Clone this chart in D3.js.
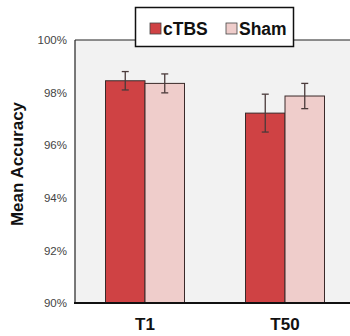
<!DOCTYPE html>
<html lang="en">
<head>
<meta charset="utf-8">
<title>Mean Accuracy</title>
<script src="https://cdn.jsdelivr.net/npm/d3@7"></script>
<style>
  body { margin: 0; background: #fff; }
  svg { display: block; font-family: "Liberation Sans", Arial, sans-serif; }
</style>
</head>
<body>
<svg width="350" height="336"></svg>
<script>
    // data
    var categories = ["T1", "T50"];
    var groups = ["cTBS", "Sham"];
    var ctbsMean = [98.45, 97.22];
    var ctbsErr = [0.35, 0.72];
    var shamMean = [98.35, 97.87];
    var shamErr = [0.36, 0.48];
    var yTicks = [90, 92, 94, 96, 98, 100];
    var colors = ["#cf4244", "#efcdcb"];

    var svg = d3.select("svg");
    var plotLeft = 75, plotRight = 355, plotTop = 40, plotBottom = 303;
    var groupW = 79;

    var x = d3.scaleBand().domain(categories).range([plotLeft, plotRight]).padding(0);
    var xs = d3.scaleBand().domain(groups).range([0, groupW]);
    var y = d3.scaleLinear().domain([90, 100]).range([plotBottom, plotTop]);

    var rows = [];
    categories.forEach(function (c, i) {
        rows.push({ cat: c, grp: "cTBS", v: ctbsMean[i], e: ctbsErr[i] });
        rows.push({ cat: c, grp: "Sham", v: shamMean[i], e: shamErr[i] });
    });

    function barX(d) { return x(d.cat) + (x.bandwidth() - groupW) / 2 + xs(d.grp); }
    function cx(d) { return barX(d) + xs.bandwidth() / 2; }

    // plot background
    svg.append("rect")
        .attr("x", plotLeft).attr("y", plotTop)
        .attr("width", plotRight - plotLeft).attr("height", plotBottom - plotTop)
        .attr("fill", "#f2f2f2");

    // frame top + left
    svg.append("line").attr("x1", plotLeft).attr("x2", plotRight).attr("y1", plotTop).attr("y2", plotTop)
        .attr("stroke", "#222").attr("stroke-width", 1.2);
    svg.append("line").attr("x1", plotLeft).attr("x2", plotLeft).attr("y1", plotTop).attr("y2", plotBottom)
        .attr("stroke", "#222").attr("stroke-width", 1.2);

    // bars
    svg.append("g").selectAll("rect")
        .data(rows)
        .enter().append("rect")
        .attr("x", barX)
        .attr("y", function (d) { return y(d.v); })
        .attr("width", xs.bandwidth())
        .attr("height", function (d) { return plotBottom - y(d.v); })
        .attr("fill", function (d) { return colors[groups.indexOf(d.grp)]; })
        .attr("stroke", "#3a2a2a")
        .attr("stroke-width", 1);

    // error bars
    var err = svg.append("g").selectAll("g")
        .data(rows)
        .enter().append("g")
        .attr("stroke", "#4a3a3a")
        .attr("stroke-width", 1.3);
    err.append("line")
        .attr("x1", cx).attr("x2", cx)
        .attr("y1", function (d) { return y(d.v + d.e); })
        .attr("y2", function (d) { return y(d.v - d.e); });
    err.append("line")
        .attr("x1", function (d) { return cx(d) - 3.5; }).attr("x2", function (d) { return cx(d) + 3.5; })
        .attr("y1", function (d) { return y(d.v + d.e); })
        .attr("y2", function (d) { return y(d.v + d.e); });
    err.append("line")
        .attr("x1", function (d) { return cx(d) - 3.5; }).attr("x2", function (d) { return cx(d) + 3.5; })
        .attr("y1", function (d) { return y(d.v - d.e); })
        .attr("y2", function (d) { return y(d.v - d.e); });

    // bottom axis line
    svg.append("line").attr("x1", plotLeft - 1).attr("x2", plotRight).attr("y1", plotBottom).attr("y2", plotBottom)
        .attr("stroke", "#111").attr("stroke-width", 2.2);

    // y tick labels
    var yAxis = svg.append("g")
        .attr("transform", "translate(" + (plotLeft - 8) + ",0)")
        .call(d3.axisLeft(y).tickValues(yTicks).tickSize(0).tickPadding(0)
            .tickFormat(function (d) { return d + "%"; }));
    yAxis.select(".domain").remove();
    yAxis.selectAll("text")
        .attr("fill", "#444")
        .style("font-size", "11.5px")
        .style("font-family", "\"Liberation Sans\", Arial, sans-serif");

    // x labels
    var xAxis = svg.append("g")
        .attr("transform", "translate(0," + plotBottom + ")")
        .call(d3.axisBottom(x).tickSize(0).tickPadding(15));
    xAxis.select(".domain").remove();
    xAxis.selectAll("text")
        .attr("fill", "#111")
        .attr("dy", "0.71em")
        .style("font-size", "17px")
        .style("font-weight", "bold")
        .style("font-family", "\"Liberation Sans\", Arial, sans-serif");

    // y title
    svg.append("text")
        .attr("transform", "translate(23,164) rotate(-90)")
        .attr("text-anchor", "middle")
        .attr("fill", "#111")
        .style("font-size", "17px")
        .style("font-weight", "bold")
        .text("Mean Accuracy");

    // legend
    var legend = svg.append("g");
    legend.append("rect")
        .attr("x", 135.5).attr("y", 7.5).attr("width", 158).attr("height", 39)
        .attr("fill", "#fff").attr("stroke", "#111").attr("stroke-width", 1.5);
    var legX = [150, 226];
    var item = legend.selectAll("g.item")
        .data(groups)
        .enter().append("g")
        .attr("class", "item")
        .attr("transform", function (d, i) { return "translate(" + legX[i] + ",23)"; });
    item.append("rect")
        .attr("width", 11).attr("height", 11)
        .attr("fill", function (d, i) { return colors[i]; })
        .attr("stroke", "#444").attr("stroke-width", 0.8);
    item.append("text")
        .attr("x", 13).attr("y", 11.5)
        .attr("fill", "#111")
        .style("font-size", "17.5px")
        .style("font-weight", "bold")
        .text(function (d) { return d; });
</script>
</body>
</html>
